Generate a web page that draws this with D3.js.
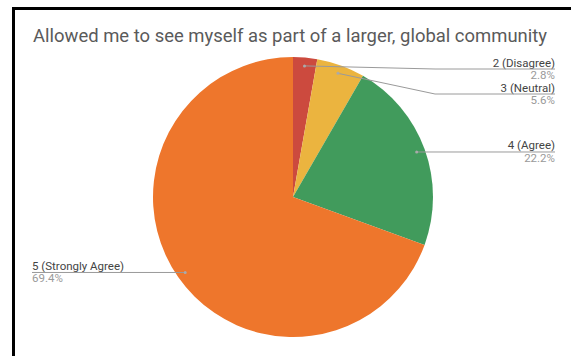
<!DOCTYPE html>
<html>
<head>
<meta charset="utf-8">
<script src="https://cdn.jsdelivr.net/npm/d3@7"></script>
<style>
  body { margin: 0; background: #fff; }
  text { font-family: Roboto, "Noto Sans", sans-serif; }
</style>
</head>
<body>
<svg id="chart"></svg>
<script>
// Survey answers (counts out of 36 responses)
const categories = ["2 (Disagree)", "3 (Neutral)", "4 (Agree)", "5 (Strongly Agree)"];
const counts = [1, 2, 8, 25];
const colors = ["#cc4a3e", "#ebb43f", "#419b5c", "#ee762c"];
const title = "Allowed me to see myself as part of a larger, global community";

const width = 571, height = 356;
const cx = 293, cy = 197, radius = 140;

const svg = d3.select("#chart")
    .attr("width", width)
    .attr("height", height);

// frame (screenshot border)
svg.append("line")
    .attr("x1", 13.5).attr("x2", 13.5)
    .attr("y1", 7).attr("y2", height)
    .attr("stroke", "#000").attr("stroke-width", 3);
svg.append("line")
    .attr("x1", 12).attr("x2", width)
    .attr("y1", 8.5).attr("y2", 8.5)
    .attr("stroke", "#000").attr("stroke-width", 3);

// title
svg.append("text")
    .attr("x", 33)
    .attr("y", 42)
    .style("font-size", "18.5px")
    .attr("textLength", 514)
    .attr("lengthAdjust", "spacingAndGlyphs")
    .attr("fill", "#5a5a5a")
    .text(title);

const total = d3.sum(counts);
const data = categories.map((c, i) => ({label: c, value: counts[i], color: colors[i]}));

const pie = d3.pie().sort(null).value(d => d.value);
const arcs = pie(data);

const arc = d3.arc().innerRadius(0).outerRadius(radius);
const dotArc = d3.arc().innerRadius(radius * 0.94).outerRadius(radius * 0.94);

const g = svg.append("g")
    .attr("transform", `translate(${cx},${cy})`);

g.selectAll("path.slice")
    .data(arcs)
    .join("path")
    .attr("class", "slice")
    .attr("d", arc)
    .attr("fill", d => d.data.color);

// label layout: right side stacked top-down, left side for the big slice
const fmt = d => (d.value / total * 100).toFixed(1) + "%";
let prevY = -Infinity;
const rightEdge = 555, leftEdge = 32, elbowX = 435;

arcs.forEach(d => {
    const [dx, dy] = dotArc.centroid(d);
    const px = cx + dx, py = cy + dy;
    const mid = (d.startAngle + d.endAngle) / 2;
    const right = mid < Math.PI;
    let ly = py;
    if (right) {
        ly = Math.max(py, prevY + 25, 69);
        prevY = ly;
    }

    const lab = svg.append("text")
        .attr("x", right ? rightEdge : leftEdge)
        .attr("y", ly - 2.5)
        .attr("text-anchor", right ? "end" : "start")
        .style("font-size", "11.5px")
        .attr("fill", "#444")
        .text(d.data.label);
    const tw = lab.node().getComputedTextLength();

    svg.append("text")
        .attr("x", right ? rightEdge : leftEdge)
        .attr("y", ly + 10)
        .attr("text-anchor", right ? "end" : "start")
        .style("font-size", "11.5px")
        .attr("fill", "#9a9a9a")
        .text(fmt(d.data));

    let pts;
    if (right) {
        const ex = Math.abs(ly - py) > 1 ? Math.min(elbowX, rightEdge - tw) : px;
        pts = [[px, py], [ex, ly], [rightEdge, ly]];
    } else {
        pts = [[px, py], [leftEdge, ly]];
    }
    svg.append("path")
        .attr("d", d3.line()(pts))
        .attr("fill", "none")
        .attr("stroke", "#9a9a9a")
        .attr("stroke-width", 1);

    svg.append("circle")
        .attr("cx", px).attr("cy", py)
        .attr("r", 1.5)
        .attr("fill", "#aaa");
});
</script>
</body>
</html>
